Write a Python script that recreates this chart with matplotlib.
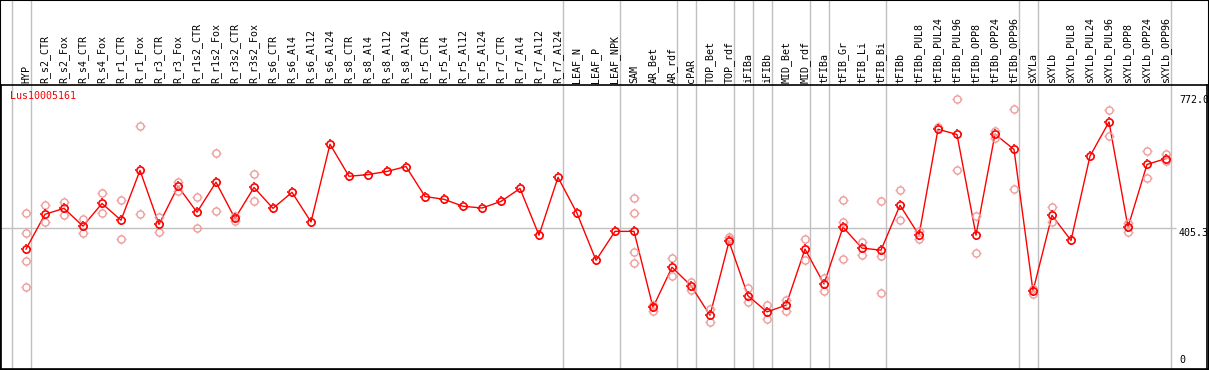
import numpy as np
import matplotlib
matplotlib.use("Agg")
import matplotlib.pyplot as plt
from matplotlib.path import Path
from matplotlib.patches import Rectangle

# --- dane ---
kategorie = ["HYP", "R_s2_CTR", "R_s2_Fox", "R_s4_CTR", "R_s4_Fox", "R_r1_CTR", "R_r1_Fox",
             "R_r3_CTR", "R_r3_Fox", "R_r1s2_CTR", "R_r1s2_Fox", "R_r3s2_CTR", "R_r3s2_Fox",
             "R_s6_CTR", "R_s6_Al4", "R_s6_Al12", "R_s6_Al24", "R_s8_CTR", "R_s8_Al4",
             "R_s8_Al12", "R_s8_Al24", "R_r5_CTR", "R_r5_Al4", "R_r5_Al12", "R_r5_Al24",
             "R_r7_CTR", "R_r7_Al4", "R_r7_Al12", "R_r7_Al24", "LEAF_N", "LEAF_P", "LEAF_NPK",
             "SAM", "AR_Bet", "AR_rdf", "cPAR", "TOP_Bet", "TOP_rdf", "iFIBa", "iFIBb",
             "MID_Bet", "MID_rdf", "tFIBa", "tFIB_Gr", "tFIB_Li", "tFIB_Bi", "tFIBb",
             "tFIBb_PUL8", "tFIBb_PUL24", "tFIBb_PUL96", "tFIBb_OPP8", "tFIBb_OPP24",
             "tFIBb_OPP96", "sXYLa", "sXYLb", "sXYLb_PUL8", "sXYLb_PUL24", "sXYLb_PUL96",
             "sXYLb_OPP8", "sXYLb_OPP24", "sXYLb_OPP96"]

srednie = [344, 444, 461, 410, 475, 427, 570, 415, 524, 450, 536, 432, 521,
           461, 507, 422, 645, 553, 558, 567, 581, 495, 487, 467, 462, 481, 518,
           384, 550, 447, 312, 395, 395, 177, 292, 239, 154, 366, 210, 164, 183,
           344, 244, 407, 347, 341, 470, 384, 688, 673, 384, 674, 630, 224, 441,
           369, 611, 709, 407, 587, 604]

# replikaty: (indeks kategorii, wartosc)
rep_idx = [0, 0, 0, 0, 1, 1, 2, 2, 3, 3, 4, 4, 5, 5, 6, 6, 7, 7, 8, 8, 9, 9,
           10, 10, 11, 11, 12, 12, 32, 32, 32, 32, 33, 33, 34, 34, 35, 35, 36, 36,
           37, 37, 38, 38, 39, 39, 40, 40, 41, 41, 42, 42, 43, 43, 43, 44, 44,
           45, 45, 45, 46, 46, 47, 47, 48, 49, 49, 50, 50, 51, 51, 52, 52,
           53, 53, 54, 54, 57, 57, 58, 58, 59, 59, 60, 60]
rep_val = [447, 389, 309, 234, 470, 421, 479, 442, 430, 389, 504, 447, 484, 372,
           696, 444, 436, 392, 536, 512, 495, 404, 619, 453, 439, 425, 561, 481,
           490, 447, 335, 303, 184, 167, 318, 266, 249, 227, 173, 136,
           378, 373, 232, 193, 184, 143, 198, 167, 372, 313, 260, 224,
           484, 422, 316, 364, 326, 481, 325, 217, 514, 427, 396, 372, 695,
           776, 570, 439, 332, 684, 664, 746, 516, 229, 216, 466, 422,
           742, 670, 420, 394, 627, 547, 616, 597]

granice = [-1, 0, 28, 31, 34, 35, 37, 38, 39, 41, 42, 45, 52, 53, 60]
srodek = 405.3
maks = 772.0
nazwa_genu = "Lus10005161"

# --- kreski wokol kolka ---
kreski = Path([(0.7, 0), (1, 0), (-0.7, 0), (-1, 0), (0, 0.7), (0, 1), (0, -0.7), (0, -1)],
              [Path.MOVETO, Path.LINETO] * 4)

W, H = 1209, 370
fig = plt.figure(figsize=(W / 100, H / 100), dpi=100)
ax = fig.add_axes([1 / W, 1 / H, 1206 / W, 284 / H])
x = np.arange(len(kategorie))
ax.set_xlim((1 - 26) / 19, (1207 - 26) / 19)
ax.set_ylim(0, 815)
ax.set_xticks([])
ax.set_yticks([])
for s in ax.spines.values():
    s.set_color("black")
    s.set_linewidth(1.2)

font = "DejaVu Sans Mono"
fs = 7.2

for b in granice:
    ax.axvline(b + 0.24, ymin=0, ymax=369 / 284, color="#c0c0c0", lw=1, clip_on=False, zorder=0)
ax.hlines(srodek, ax.get_xlim()[0], (1176 - 26) / 19, color="#c0c0c0", lw=1, zorder=0)

for xs, ys, kol, lw in [(rep_idx, rep_val, "#ee9a9a", 1.0), (x, srednie, "red", 1.2)]:
    if kol == "red":
        ax.plot(xs, ys, color="red", lw=1, zorder=3)
    ax.plot(xs, ys, linestyle="none", marker="o", markersize=5.2, markerfacecolor="none",
            markeredgecolor=kol, markeredgewidth=lw, zorder=4)
    ax.plot(xs, ys, linestyle="none", marker=kreski, markersize=7.6, markerfacecolor="none",
            markeredgecolor=kol, markeredgewidth=lw, zorder=4)

for i, k in enumerate(kategorie):
    ax.annotate(k, xy=(i, 1), xycoords=("data", "axes fraction"), xytext=(0, 2),
                textcoords="offset pixels", rotation=90, ha="center", va="bottom",
                fontsize=fs, family=font, annotation_clip=False)

ax.annotate(nazwa_genu, xy=(0, 1), xycoords="axes fraction", xytext=(9, -6),
            textcoords="offset pixels", ha="left", va="top", color="red",
            fontsize=fs, family=font)

xl = (1179 - 26) / 19
ax.text(xl, maks, "%.1f" % maks, ha="left", va="center", fontsize=fs, family=font, clip_on=False)
ax.text(xl, srodek, "%.1f" % srodek, ha="left", va="top", fontsize=fs, family=font, clip_on=False)
ax.annotate("0", xy=(xl, 0), xytext=(0, 4), textcoords="offset pixels",
            ha="left", va="bottom", fontsize=fs, family=font)

fig.patches.append(Rectangle((0, 0), 1, 1, transform=fig.transFigure, fill=False,
                             edgecolor="black", lw=1.5))

fig.savefig("out.png", dpi=100)
